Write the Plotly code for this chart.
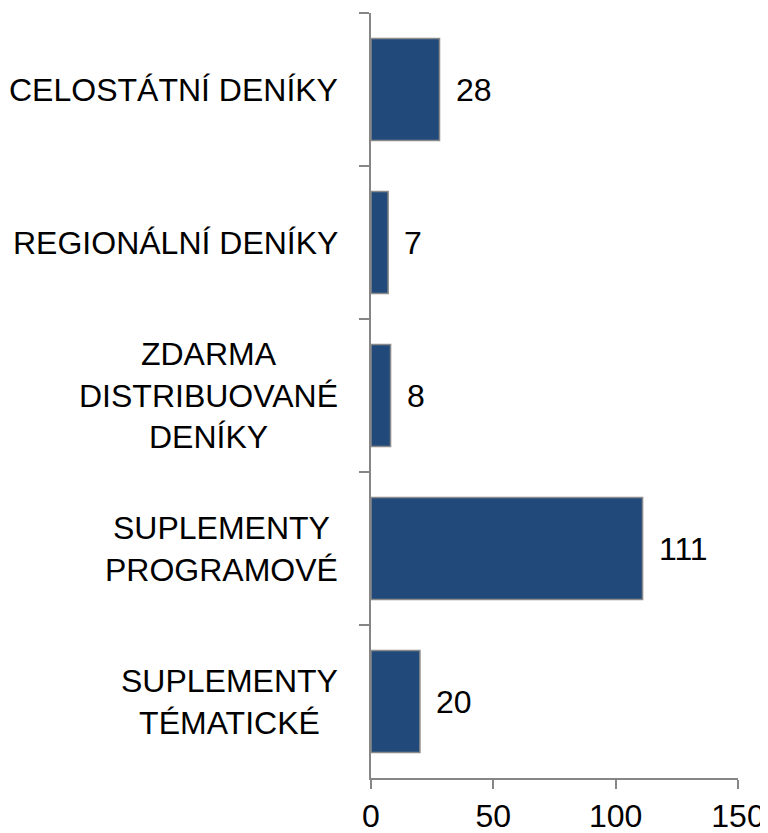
import plotly.graph_objects as go

# categories (top to bottom) and counts
categories = [
    'CELOSTÁTNÍ DENÍKY',
    'REGIONÁLNÍ DENÍKY',
    'ZDARMA<br>DISTRIBUOVANÉ<br>DENÍKY',
    'SUPLEMENTY<br>PROGRAMOVÉ',
    'SUPLEMENTY<br>TÉMATICKÉ',
]
counts = [28, 7, 8, 111, 20]
x_ticks = [0, 50, 100, 150]

font = dict(family='Liberation Sans, Arial, sans-serif', size=32, color='black')
axis_col = '#868686'

fig = go.Figure(
    data=go.Bar(
        x=counts,
        y=categories,
        orientation='h',
        marker=dict(color='#214A7B', line=dict(color='#8A8A8A', width=1.5)),
        hoverinfo='x+y',
    )
)

# value labels to the right of each bar
for c, v in zip(categories, counts):
    fig.add_annotation(
        x=v, y=c, text=str(v), showarrow=False,
        xanchor='left', xshift=14, font=font,
    )

# category labels, centred text block, right of axis
for c in categories:
    fig.add_annotation(
        x=0, y=c, xref='paper', text=c, showarrow=False,
        xanchor='right', xshift=-31, align='center', font=font,
    )

# page body has an 8px margin, so the figure is sized to fit the window
fig.update_layout(
    width=760,
    height=825,
    margin=dict(l=363, r=30, t=5, b=55),
    paper_bgcolor='white',
    plot_bgcolor='white',
    font=font,
    bargap=0.333,
    showlegend=False,
    xaxis=dict(
        range=[0, 150],
        tickvals=x_ticks,
        showgrid=False,
        zeroline=False,
        showline=True,
        linecolor=axis_col,
        linewidth=1.5,
        ticks='outside',
        ticklen=9,
        tickcolor=axis_col,
        tickwidth=1.5,
        automargin=False,
    ),
    yaxis=dict(
        autorange='reversed',
        showgrid=False,
        showline=True,
        linecolor=axis_col,
        linewidth=1.5,
        ticks='outside',
        tickson='boundaries',
        ticklen=10,
        tickcolor=axis_col,
        tickwidth=1.5,
        showticklabels=False,
        automargin=False,
    ),
)

fig.write_html('out.html')
